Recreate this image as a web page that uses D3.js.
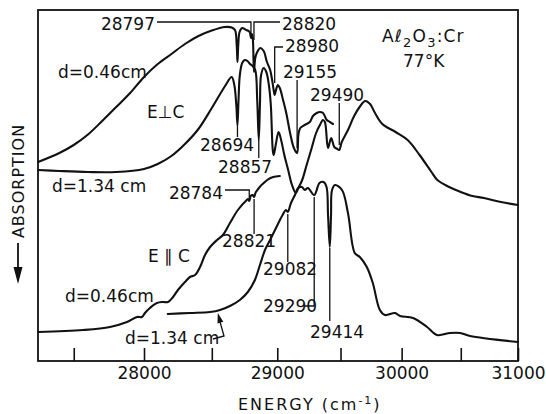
<!DOCTYPE html>
<html>
<head>
<meta charset="utf-8">
<script src="https://cdn.jsdelivr.net/npm/d3@7"></script>
<style>
  html, body { margin: 0; padding: 0; background: #fff; }
  svg { display: block; }
  text { font-family: "DejaVu Sans", sans-serif; fill: #111; }
</style>
</head>
<body>
<svg id="chart" width="546" height="414"></svg>
<script>
// Al2O3:Cr at 77 K. Energy in cm^-1, absorption in arbitrary units
// (plotted increasing downward, each trace with its own offset).

// E perpendicular to c, d = 0.46 cm
const perpThinE = [27253,27400,27500,27600,27700,27800,27900,28000,28100,28200,28300,28400,28500,28600,28650,28675,28688,28694,28700,28710,28730,28760,28780,28790,28797,28805,28812,28820,28830,28845,28870,28895,28920,28945,28960,28972,28980,28990,29005,29020,29045,29070,29100,29130,29155,29165,29180,29215,29255,29280,29310,29335,29360,29390,29415,29440];
const perpThinA = [15.2,14.3,13.5,12.45,11.1,9.7,8.3,6.7,5.4,4.4,3.4,2.6,2.05,1.7,1.75,2.0,3.5,5.2,3.5,2.2,1.8,2.0,2.1,2.3,2.8,2.4,3.0,6.2,4.8,4.2,3.8,4.1,5.2,6.0,7.0,8.0,8.5,8.0,7.5,7.8,9.0,10.3,12.3,13.8,14.3,12.5,11.8,11.5,11.2,10.6,10.3,10.2,10.3,11.0,11.2,11.4];

// E perpendicular to c, d = 1.34 cm
const perpThickE = [27253,27400,27600,27800,28000,28100,28200,28300,28400,28500,28600,28650,28670,28685,28694,28702,28712,28730,28750,28770,28790,28810,28830,28845,28857,28866,28875,28895,28915,28935,28950,28965,28972,28988,29010,29030,29055,29085,29115,29145,29165,29195,29230,29270,29305,29335,29360,29375,29400,29425,29450,29475,29490,29510,29560,29610,29660,29700,29740,29780,29840,29950,30050,30150,30250,30300,30400,30500,30600,30700,30850,31000];
const perpThickA = [16.0,16.1,16.2,16.2,15.9,15.4,14.6,13.4,11.9,9.8,7.6,6.7,7.5,9.5,11.5,9.0,6.5,5.3,5.0,5.1,5.4,5.6,6.0,9.0,13.0,9.5,6.5,5.8,6.2,7.5,9.5,14.0,14.5,13.5,12.2,13.0,14.5,16.0,17.5,18.3,17.8,17.0,15.5,13.8,12.3,11.5,11.0,11.2,13.8,12.8,13.7,13.9,14.0,13.2,12.0,10.6,9.6,9.1,9.4,10.3,11.4,12.2,13.0,14.5,16.2,17.0,17.7,18.2,18.6,18.8,19.2,19.5];

// E parallel to c, d = 0.46 cm
const paraThinE = [27253,27565,27756,27877,27950,27985,28007,28043,28094,28138,28175,28212,28248,28300,28337,28375,28412,28449,28487,28539,28584,28637,28697,28765,28775,28784,28795,28810,28821,28835,28922,28968,29020];
const paraThinA = [32.2,32.0,31.7,31.2,30.7,30.7,30.3,29.8,29.3,29.2,29.2,28.7,28.0,27.2,26.7,26.5,25.7,24.5,23.7,23.0,22.5,21.3,20.0,19.0,18.9,19.1,18.6,18.5,18.7,18.2,17.0,16.7,16.6];

// E parallel to c, d = 1.34 cm
const paraThickE = [28173,28337,28487,28562,28637,28712,28773,28827,28866,28905,28944,28990,29037,29068,29082,29107,29138,29162,29193,29216,29240,29290,29332,29364,29388,29400,29414,29424,29432,29456,29512,29560,29615,29656,29713,29762,29820,29862,29945,29987,30095,30213,30297,30408,30494,30580,31000];
const paraThickA = [30.4,30.3,30.2,30.0,29.6,29.0,28.2,27.0,25.5,24.0,23.0,21.8,20.6,20.0,20.2,19.3,18.5,17.8,17.7,18.0,17.8,18.5,17.3,17.2,17.7,20.5,23.7,20.5,18.0,17.5,18.0,20.3,24.3,24.7,25.7,27.3,30.0,30.5,30.3,30.6,30.8,31.7,32.5,32.3,32.3,32.6,33.2];

// Marked line positions (cm^-1)
const lineEnergies = [28797, 28820, 28980, 29155, 29490, 28694, 28857, 28784, 28821, 29082, 29290, 29414];

// Axis ticks (cm^-1)
const tickEnergies  = [27500, 28000, 28500, 29000, 29500, 30000, 30500, 31000];
const tickLabelled  = [28000, 29000, 30000, 31000];

// ---------------------------------------------------------------
const svg = d3.select("#chart");
const ink = "#111";

// The recorder was linear in wavelength, so the energy axis is drawn
// through a linear wavelength scale (nm).
const toNm = e => 1e7 / e;
const xNm = d3.scaleLinear().domain([toNm(27252.5), toNm(31000)]).range([38, 518]);
const x = e => xNm(toNm(e));
const y = d3.scaleLinear().domain([0, 35.1]).range([10, 361]);

// frame
svg.append("rect")
  .attr("x", xNm.range()[0]).attr("y", y.range()[0])
  .attr("width", xNm.range()[1] - xNm.range()[0])
  .attr("height", y.range()[1] - y.range()[0])
  .attr("fill", "none").attr("stroke", ink).attr("stroke-width", 1.8);

// bottom axis with inward ticks
const axis = d3.axisBottom(xNm)
  .tickValues(tickEnergies.map(toNm))
  .tickSizeInner(-13).tickSizeOuter(0).tickPadding(6)
  .tickFormat(nm => {
    const e = Math.round(1e7 / nm);
    return tickLabelled.includes(e) ? String(e) : "";
  });
const gx = svg.append("g")
  .attr("transform", `translate(0,${y.range()[1]})`)
  .call(axis)
  .attr("font-family", "DejaVu Sans, sans-serif")
  .attr("font-size", 17);
gx.select(".domain").remove();
gx.selectAll(".tick line").attr("stroke", ink).attr("stroke-width", 1.6);
gx.selectAll(".tick text").attr("fill", ink);

// spectra
const line = d3.line()
  .x(d => x(d[0])).y(d => y(d[1]))
  .curve(d3.curveCatmullRom.alpha(0.5));
const traces = [
  [perpThinE, perpThinA],
  [perpThickE, perpThickA],
  [paraThinE, paraThinA],
  [paraThickE, paraThickA]
];
traces.forEach(([es, as]) => {
  svg.append("path")
    .attr("d", line(es.map((e, i) => [e, as[i]])))
    .attr("fill", "none").attr("stroke", ink)
    .attr("stroke-width", 2.1).attr("stroke-linejoin", "round").attr("stroke-linecap", "round");
});

// line markers: leader geometry (pixel elbows, data-unit ends) and label placement
const markLayout = [
  { elbow: 157, v0: 1.2, v1: 2.4, tx: 155, ty: 30, anchor: "end" },    // 28797
  { elbow: 280, v0: 1.2, v1: 3.0, tx: 282, ty: 30, anchor: "start" },  // 28820
  { elbow: 283, v0: 3.7, v1: 7.3, tx: 285, ty: 52, anchor: "start" },  // 28980
  { v0: 7.0, v1: 13.8, tx: 283, ty: 78, anchor: "start" },             // 29155
  { v0: 9.3, v1: 13.5, tx: 310, ty: 101, anchor: "start" },            // 29490
  { v0: 11.4, v1: 12.7, tx: 200, ty: 151, anchor: "start" },           // 28694
  { v0: 13.0, v1: 14.8, tx: 218, ty: 173, anchor: "start" },           // 28857
  { elbow: 225, v0: 18.0, v1: 18.8, tx: 223, ty: 199, anchor: "end" }, // 28784
  { v0: 18.9, v1: 22.4, tx: 222, ty: 247, anchor: "start" },           // 28821
  { v0: 20.4, v1: 25.2, tx: 263, ty: 275, anchor: "start" },           // 29082
  { elbow: 305, v0: 29.6, v1: 18.7, tx: 263, ty: 312, anchor: "start" },// 29290
  { v0: 23.8, v1: 31.1, tx: 310, ty: 338, anchor: "start" }            // 29414
];
lineEnergies.forEach((e, i) => {
  const L = markLayout[i];
  const xe = x(e);
  const pts = L.elbow !== undefined
    ? [[L.elbow, y(L.v0)], [xe, y(L.v0)], [xe, y(L.v1)]]
    : [[xe, y(L.v0)], [xe, y(L.v1)]];
  svg.append("path").attr("d", d3.line()(pts))
    .attr("fill", "none").attr("stroke", ink).attr("stroke-width", 1.3);
  svg.append("text").attr("x", L.tx).attr("y", L.ty)
    .attr("text-anchor", L.anchor).attr("font-size", 17)
    .text(String(e));
});

// trace labels
const labels = [
  { t: "d=0.46cm",  x: 58,  y: 78 },
  { t: "E\u22A5C",  x: 147, y: 118 },
  { t: "d=1.34 cm", x: 52,  y: 192 },
  { t: "E \u2225 C", x: 148, y: 262 },
  { t: "d=0.46cm",  x: 65,  y: 302 },
  { t: "d=1.34 cm", x: 125, y: 344 }
];
labels.forEach(l => {
  svg.append("text").attr("x", l.x).attr("y", l.y).attr("font-size", 17).text(l.t);
});

// arrow from the lower "d=1.34 cm" label to its trace
{
  const tip = [x(28545), y(30.2) + 1];
  const knee = [224, 336];
  svg.append("path").attr("d", d3.line()([[213, 339], knee, [tip[0] + 2, tip[1] + 8]]))
    .attr("fill", "none").attr("stroke", ink).attr("stroke-width", 1.3);
  const dx = tip[0] - knee[0], dy = tip[1] - knee[1];
  const len = Math.hypot(dx, dy), ux = dx / len, uy = dy / len;
  const bx = tip[0] - ux * 10, by = tip[1] - uy * 10;
  svg.append("path")
    .attr("d", `M${tip[0]},${tip[1]}L${bx - uy * 3},${by + ux * 3}L${bx + uy * 3},${by - ux * 3}Z`)
    .attr("fill", ink);
}

// sample and temperature
const title = svg.append("text").attr("x", 382).attr("y", 42)
  .attr("font-size", 17).attr("letter-spacing", 1.2);
title.append("tspan").text("A\u2113");
title.append("tspan").attr("dy", 5).attr("font-size", 13).text("2");
title.append("tspan").attr("dy", -5).text("O");
title.append("tspan").attr("dy", 5).attr("font-size", 13).text("3");
title.append("tspan").attr("dy", -5).text(":Cr");
svg.append("text").attr("x", 403).attr("y", 67).attr("font-size", 17).text("77\u00B0K");

// axis titles
const xt = svg.append("text").attr("x", 238).attr("y", 410)
  .attr("font-size", 16).attr("letter-spacing", 2);
xt.append("tspan").text("ENERGY (cm");
xt.append("tspan").attr("dy", -6).attr("font-size", 11).text("-1");
xt.append("tspan").attr("dy", 6).text(")");

svg.append("text")
  .attr("transform", "translate(24,181) rotate(-90)")
  .attr("text-anchor", "middle").attr("font-size", 16).attr("letter-spacing", 1)
  .text("ABSORPTION");
svg.append("line").attr("x1", 18).attr("y1", 243).attr("x2", 18).attr("y2", 272)
  .attr("stroke", ink).attr("stroke-width", 1.8);
svg.append("path").attr("d", "M13.5,267L22.5,267L18,284Z").attr("fill", ink);
</script>
</body>
</html>
